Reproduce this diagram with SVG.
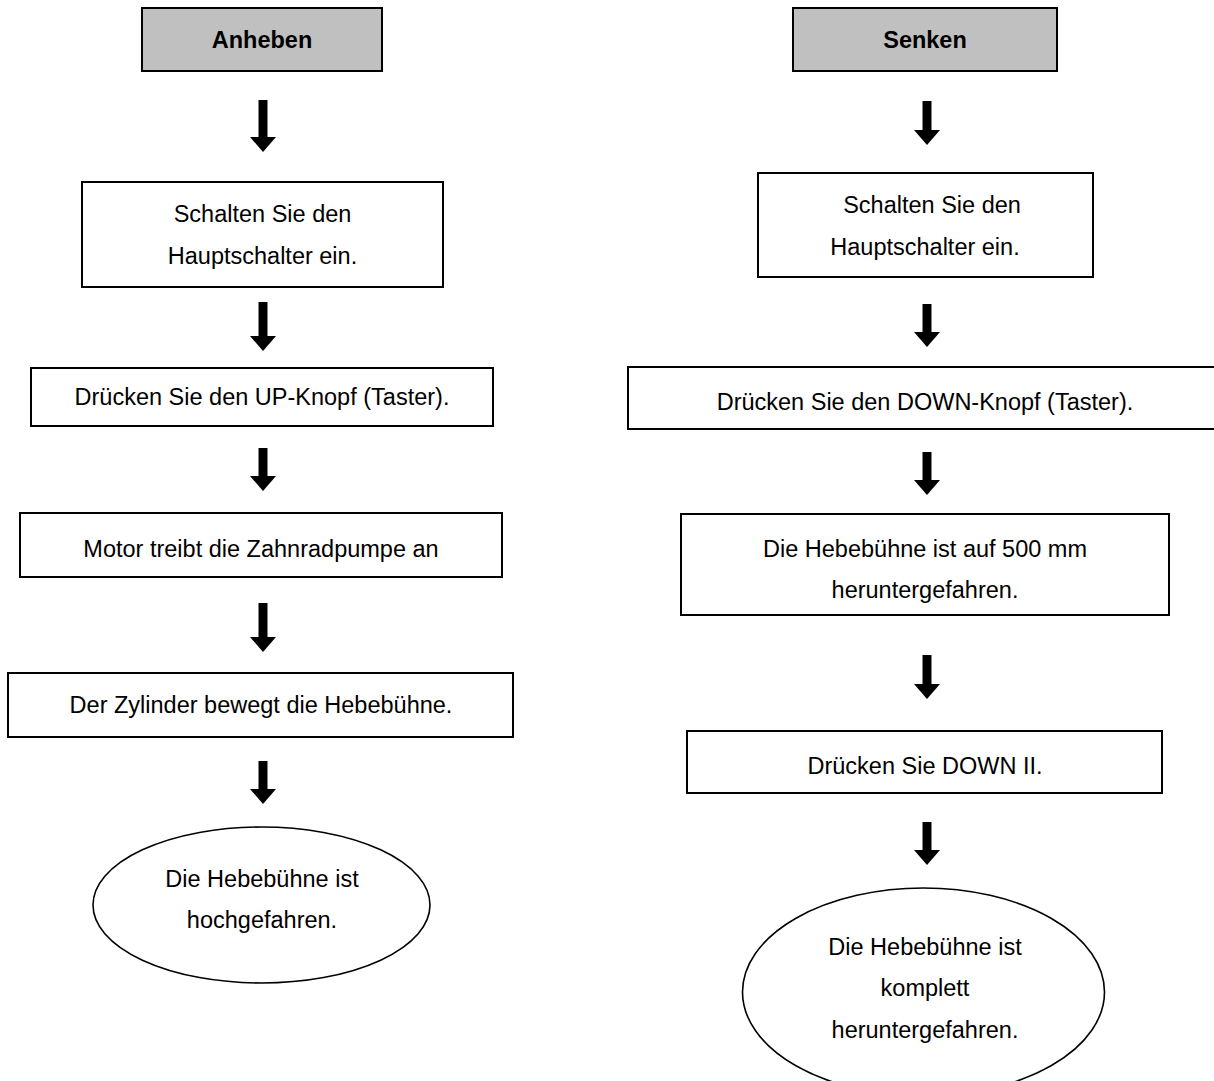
<svg xmlns="http://www.w3.org/2000/svg" width="1214" height="1081" viewBox="0 0 1214 1081">
<style>
.box{fill:#ffffff;stroke:#000000;stroke-width:2}
.title{fill:#c0c0c0;stroke:#000000;stroke-width:2}
.ell{fill:#ffffff;stroke:#000000;stroke-width:1.6}
text{font-family:"Liberation Sans",Arial,sans-serif;font-size:23.5px;fill:#000000;text-anchor:middle}
.b{font-weight:bold}
.arr{stroke:#000000;stroke-width:9;fill:none;marker-end:url(#head)}
</style>
<defs>
<marker id="head" markerUnits="userSpaceOnUse" viewBox="0 -14 16 28" refX="0" refY="0" markerWidth="16" markerHeight="28" orient="auto">
<path d="M0,-13 L15,0 L0,13 Z" fill="#000000"/>
</marker>
</defs>
<rect width="1214" height="1081" fill="#ffffff"/>
<g id="connectors">
<line class="arr" x1="263" y1="100" x2="263" y2="137"/>
<line class="arr" x1="263" y1="302" x2="263" y2="336"/>
<line class="arr" x1="263" y1="448" x2="263" y2="476"/>
<line class="arr" x1="263" y1="603" x2="263" y2="637"/>
<line class="arr" x1="263" y1="761" x2="263" y2="789"/>
<line class="arr" x1="927" y1="101" x2="927" y2="130"/>
<line class="arr" x1="927" y1="304" x2="927" y2="332"/>
<line class="arr" x1="927" y1="452" x2="927" y2="480"/>
<line class="arr" x1="927" y1="655" x2="927" y2="684"/>
<line class="arr" x1="927" y1="822" x2="927" y2="850"/>
</g>
<g id="anheben">
<rect class="title" x="142" y="8" width="240" height="63"/>
<text class="b" x="262" y="48">Anheben</text>
</g>
<g id="l_schalten">
<rect class="box" x="82" y="182" width="361" height="105"/>
<text x="262.5" y="222">Schalten Sie den</text>
<text x="262.5" y="264">Hauptschalter ein.</text>
</g>
<g id="l_druecken">
<rect class="box" x="31" y="368" width="462" height="58"/>
<text x="262" y="405">Drücken Sie den UP-Knopf (Taster).</text>
</g>
<g id="l_motor">
<rect class="box" x="20" y="513" width="482" height="64"/>
<text x="261" y="557">Motor treibt die Zahnradpumpe an</text>
</g>
<g id="l_zylinder">
<rect class="box" x="8" y="673" width="505" height="64"/>
<text x="261" y="713">Der Zylinder bewegt die Hebebühne.</text>
</g>
<g id="l_end">
<ellipse class="ell" cx="261.5" cy="905" rx="168.5" ry="78"/>
<text x="262" y="887">Die Hebebühne ist</text>
<text x="262" y="928">hochgefahren.</text>
</g>
<g id="senken">
<rect class="title" x="793" y="8" width="264" height="63"/>
<text class="b" x="925" y="48">Senken</text>
</g>
<g id="r_schalten">
<rect class="box" x="758" y="173" width="335" height="104"/>
<text x="932" y="213">Schalten Sie den</text>
<text x="925" y="255">Hauptschalter ein.</text>
</g>
<g id="r_druecken">
<rect class="box" x="628" y="367" width="600" height="62"/>
<text x="925" y="410">Drücken Sie den DOWN-Knopf (Taster).</text>
</g>
<g id="r_500">
<rect class="box" x="681" y="514" width="488" height="101"/>
<text x="925" y="557">Die Hebebühne ist auf 500 mm</text>
<text x="925" y="598">heruntergefahren.</text>
</g>
<g id="r_down2">
<rect class="box" x="687" y="731" width="475" height="62"/>
<text x="925" y="774">Drücken Sie DOWN II.</text>
</g>
<g id="r_end">
<ellipse class="ell" cx="923.5" cy="992" rx="181" ry="104"/>
<text x="925" y="955">Die Hebebühne ist</text>
<text x="925" y="996">komplett</text>
<text x="925" y="1038">heruntergefahren.</text>
</g>
</svg>
